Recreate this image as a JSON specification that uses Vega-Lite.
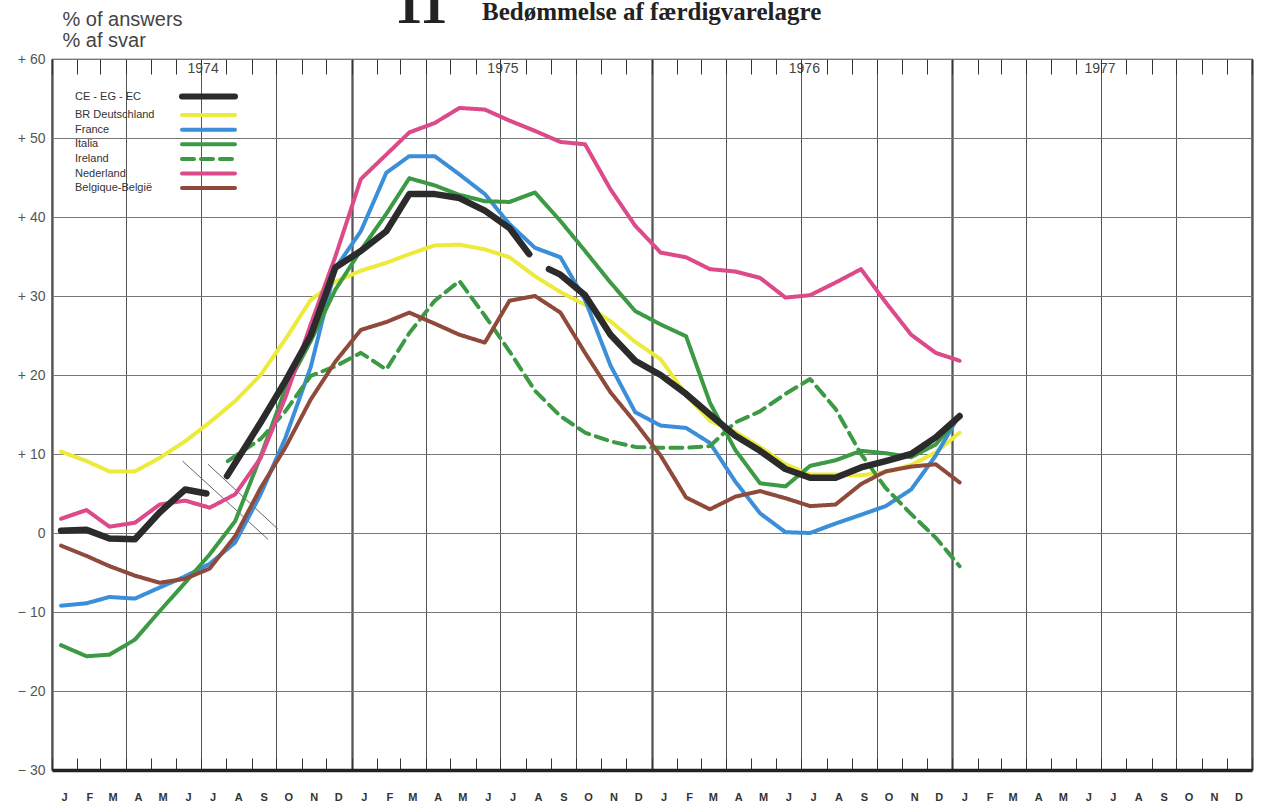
{
 "$schema": "https://vega.github.io/schema/vega-lite/v6.json",
 "width": 1200, "height": 711,
 "autosize": {"type": "none"},
 "padding": {"left": 52, "top": 59, "right": 11, "bottom": 32},
 "background": "white",
 "config": {"view": {"stroke": "#333", "strokeWidth": 1.2}, "axis": {"labelFont": "Liberation Sans", "titleFont": "Liberation Sans"}},
 "title": {"text": "Bedømmelse af færdigvarelagre", "anchor": "start", "frame": "group", "dx": 430, "dy": 48, "offset": 0, "font": "Liberation Serif", "fontSize": 25, "fontWeight": "bold", "color": "#222"},
 "datasets": {
  "years": [{"d": "1974-07-04", "year": "1974"}, {"d": "1975-07-04", "year": "1975"}, {"d": "1976-07-05", "year": "1976"}, {"d": "1977-06-30", "year": "1977"}],
  "breaks": [{"d": "1974-06-09", "v": 9.1, "d2": "1974-09-21", "v2": -0.8}, {"d": "1974-07-10", "v": 8.7, "d2": "1974-10-03", "v2": 0.5}],
  "series": [
   {"s":"DE","d":"1974-01-12","v":10.3},{"s":"DE","d":"1974-02-12","v":9.1},{"s":"DE","d":"1974-03-12","v":7.8},{"s":"DE","d":"1974-04-12","v":7.8},{"s":"DE","d":"1974-05-12","v":9.5},{"s":"DE","d":"1974-06-12","v":11.6},{"s":"DE","d":"1974-07-12","v":14.0},{"s":"DE","d":"1974-08-12","v":16.7},{"s":"DE","d":"1974-09-12","v":20.0},{"s":"DE","d":"1974-10-12","v":24.5},{"s":"DE","d":"1974-11-12","v":29.5},{"s":"DE","d":"1974-12-12","v":31.8},
   {"s":"DE","d":"1975-01-12","v":33.2},{"s":"DE","d":"1975-02-12","v":34.2},{"s":"DE","d":"1975-03-12","v":35.3},{"s":"DE","d":"1975-04-12","v":36.4},{"s":"DE","d":"1975-05-12","v":36.5},{"s":"DE","d":"1975-06-12","v":35.9},{"s":"DE","d":"1975-07-12","v":34.9},{"s":"DE","d":"1975-08-12","v":32.5},{"s":"DE","d":"1975-09-12","v":30.5},{"s":"DE","d":"1975-10-12","v":28.9},{"s":"DE","d":"1975-11-12","v":26.8},{"s":"DE","d":"1975-12-12","v":24.2},
   {"s":"DE","d":"1976-01-12","v":22.0},{"s":"DE","d":"1976-02-12","v":17.5},{"s":"DE","d":"1976-03-12","v":14.2},{"s":"DE","d":"1976-04-12","v":12.8},{"s":"DE","d":"1976-05-12","v":10.9},{"s":"DE","d":"1976-06-12","v":8.7},{"s":"DE","d":"1976-07-12","v":7.4},{"s":"DE","d":"1976-08-12","v":7.4},{"s":"DE","d":"1976-09-12","v":7.3},{"s":"DE","d":"1976-10-12","v":7.7},{"s":"DE","d":"1976-11-12","v":8.6},{"s":"DE","d":"1976-12-12","v":10.2},{"s":"DE","d":"1977-01-10","v":12.7},

   {"s":"FR","d":"1974-01-12","v":-9.2},{"s":"FR","d":"1974-02-12","v":-8.9},{"s":"FR","d":"1974-03-12","v":-8.1},{"s":"FR","d":"1974-04-12","v":-8.3},{"s":"FR","d":"1974-05-12","v":-6.9},{"s":"FR","d":"1974-06-12","v":-5.5},{"s":"FR","d":"1974-07-12","v":-3.9},{"s":"FR","d":"1974-08-12","v":-1.2},{"s":"FR","d":"1974-09-12","v":4.9},{"s":"FR","d":"1974-10-12","v":12.0},{"s":"FR","d":"1974-11-12","v":21.0},{"s":"FR","d":"1974-12-12","v":33.5},
   {"s":"FR","d":"1975-01-12","v":38.2},{"s":"FR","d":"1975-02-12","v":45.6},{"s":"FR","d":"1975-03-12","v":47.7},{"s":"FR","d":"1975-04-12","v":47.7},{"s":"FR","d":"1975-05-12","v":45.4},{"s":"FR","d":"1975-06-12","v":42.9},{"s":"FR","d":"1975-07-12","v":39.1},{"s":"FR","d":"1975-08-12","v":36.1},{"s":"FR","d":"1975-09-12","v":34.9},{"s":"FR","d":"1975-10-12","v":29.5},{"s":"FR","d":"1975-11-12","v":21.2},{"s":"FR","d":"1975-12-12","v":15.3},
   {"s":"FR","d":"1976-01-12","v":13.6},{"s":"FR","d":"1976-02-12","v":13.3},{"s":"FR","d":"1976-03-12","v":11.4},{"s":"FR","d":"1976-04-12","v":6.5},{"s":"FR","d":"1976-05-12","v":2.5},{"s":"FR","d":"1976-06-12","v":0.1},{"s":"FR","d":"1976-07-12","v":0.0},{"s":"FR","d":"1976-08-12","v":1.2},{"s":"FR","d":"1976-09-12","v":2.3},{"s":"FR","d":"1976-10-12","v":3.4},{"s":"FR","d":"1976-11-12","v":5.5},{"s":"FR","d":"1976-12-12","v":9.8},{"s":"FR","d":"1977-01-10","v":15.0},

   {"s":"IT","d":"1974-01-12","v":-14.2},{"s":"IT","d":"1974-02-12","v":-15.6},{"s":"IT","d":"1974-03-12","v":-15.4},{"s":"IT","d":"1974-04-12","v":-13.5},{"s":"IT","d":"1974-05-12","v":-9.9},{"s":"IT","d":"1974-06-12","v":-6.3},{"s":"IT","d":"1974-07-12","v":-2.7},{"s":"IT","d":"1974-08-12","v":1.5},{"s":"IT","d":"1974-09-12","v":9.7},{"s":"IT","d":"1974-10-12","v":18.2},{"s":"IT","d":"1974-11-12","v":24.3},{"s":"IT","d":"1974-12-12","v":30.8},
   {"s":"IT","d":"1975-01-12","v":35.8},{"s":"IT","d":"1975-02-12","v":40.4},{"s":"IT","d":"1975-03-12","v":44.9},{"s":"IT","d":"1975-04-12","v":44.0},{"s":"IT","d":"1975-05-12","v":42.8},{"s":"IT","d":"1975-06-12","v":42.0},{"s":"IT","d":"1975-07-12","v":41.9},{"s":"IT","d":"1975-08-12","v":43.1},{"s":"IT","d":"1975-09-12","v":39.5},{"s":"IT","d":"1975-10-12","v":35.7},{"s":"IT","d":"1975-11-12","v":31.7},{"s":"IT","d":"1975-12-12","v":28.1},
   {"s":"IT","d":"1976-01-12","v":26.4},{"s":"IT","d":"1976-02-12","v":24.9},{"s":"IT","d":"1976-03-12","v":16.5},{"s":"IT","d":"1976-04-12","v":10.5},{"s":"IT","d":"1976-05-12","v":6.3},{"s":"IT","d":"1976-06-12","v":5.9},{"s":"IT","d":"1976-07-12","v":8.5},{"s":"IT","d":"1976-08-12","v":9.2},{"s":"IT","d":"1976-09-12","v":10.4},{"s":"IT","d":"1976-10-12","v":10.1},{"s":"IT","d":"1976-11-12","v":9.6},{"s":"IT","d":"1976-12-12","v":11.2},{"s":"IT","d":"1977-01-10","v":14.8},

   {"s":"IE","d":"1974-08-03","v":9.1},{"s":"IE","d":"1974-09-12","v":11.9},{"s":"IE","d":"1974-10-12","v":15.4},{"s":"IE","d":"1974-11-12","v":19.9},{"s":"IE","d":"1974-12-12","v":21.1},
   {"s":"IE","d":"1975-01-12","v":22.8},{"s":"IE","d":"1975-02-12","v":20.7},{"s":"IE","d":"1975-03-12","v":25.3},{"s":"IE","d":"1975-04-12","v":29.4},{"s":"IE","d":"1975-05-12","v":31.9},{"s":"IE","d":"1975-06-12","v":27.5},{"s":"IE","d":"1975-07-12","v":23.0},{"s":"IE","d":"1975-08-12","v":18.0},{"s":"IE","d":"1975-09-12","v":14.8},{"s":"IE","d":"1975-10-12","v":12.7},{"s":"IE","d":"1975-11-12","v":11.6},{"s":"IE","d":"1975-12-12","v":10.9},
   {"s":"IE","d":"1976-01-12","v":10.8},{"s":"IE","d":"1976-02-12","v":10.8},{"s":"IE","d":"1976-03-12","v":11.0},{"s":"IE","d":"1976-04-12","v":14.0},{"s":"IE","d":"1976-05-12","v":15.4},{"s":"IE","d":"1976-06-12","v":17.6},{"s":"IE","d":"1976-07-12","v":19.5},{"s":"IE","d":"1976-08-12","v":15.7},{"s":"IE","d":"1976-09-12","v":10.0},{"s":"IE","d":"1976-10-12","v":5.7},{"s":"IE","d":"1976-11-12","v":2.4},{"s":"IE","d":"1976-12-12","v":-0.6},{"s":"IE","d":"1977-01-10","v":-4.2},

   {"s":"NL","d":"1974-01-12","v":1.8},{"s":"NL","d":"1974-02-12","v":2.9},{"s":"NL","d":"1974-03-12","v":0.8},{"s":"NL","d":"1974-04-12","v":1.3},{"s":"NL","d":"1974-05-12","v":3.6},{"s":"NL","d":"1974-06-12","v":4.1},{"s":"NL","d":"1974-07-12","v":3.2},{"s":"NL","d":"1974-08-12","v":4.9},{"s":"NL","d":"1974-09-12","v":9.5},{"s":"NL","d":"1974-10-12","v":17.1},{"s":"NL","d":"1974-11-12","v":26.4},{"s":"NL","d":"1974-12-12","v":35.0},
   {"s":"NL","d":"1975-01-12","v":44.8},{"s":"NL","d":"1975-02-12","v":47.9},{"s":"NL","d":"1975-03-12","v":50.7},{"s":"NL","d":"1975-04-12","v":51.9},{"s":"NL","d":"1975-05-12","v":53.8},{"s":"NL","d":"1975-06-12","v":53.6},{"s":"NL","d":"1975-07-12","v":52.2},{"s":"NL","d":"1975-08-12","v":50.9},{"s":"NL","d":"1975-09-12","v":49.5},{"s":"NL","d":"1975-10-12","v":49.2},{"s":"NL","d":"1975-11-12","v":43.5},{"s":"NL","d":"1975-12-12","v":38.9},
   {"s":"NL","d":"1976-01-12","v":35.5},{"s":"NL","d":"1976-02-12","v":34.9},{"s":"NL","d":"1976-03-12","v":33.4},{"s":"NL","d":"1976-04-12","v":33.1},{"s":"NL","d":"1976-05-12","v":32.3},{"s":"NL","d":"1976-06-12","v":29.8},{"s":"NL","d":"1976-07-12","v":30.1},{"s":"NL","d":"1976-08-12","v":31.7},{"s":"NL","d":"1976-09-12","v":33.4},{"s":"NL","d":"1976-10-12","v":29.2},{"s":"NL","d":"1976-11-12","v":25.1},{"s":"NL","d":"1976-12-12","v":22.8},{"s":"NL","d":"1977-01-10","v":21.8},

   {"s":"BE","d":"1974-01-12","v":-1.6},{"s":"BE","d":"1974-02-12","v":-2.9},{"s":"BE","d":"1974-03-12","v":-4.2},{"s":"BE","d":"1974-04-12","v":-5.4},{"s":"BE","d":"1974-05-12","v":-6.3},{"s":"BE","d":"1974-06-12","v":-5.8},{"s":"BE","d":"1974-07-12","v":-4.5},{"s":"BE","d":"1974-08-12","v":-0.4},{"s":"BE","d":"1974-09-12","v":5.7},{"s":"BE","d":"1974-10-12","v":10.8},{"s":"BE","d":"1974-11-12","v":16.9},{"s":"BE","d":"1974-12-12","v":21.7},
   {"s":"BE","d":"1975-01-12","v":25.7},{"s":"BE","d":"1975-02-12","v":26.7},{"s":"BE","d":"1975-03-12","v":27.9},{"s":"BE","d":"1975-04-12","v":26.5},{"s":"BE","d":"1975-05-12","v":25.1},{"s":"BE","d":"1975-06-12","v":24.1},{"s":"BE","d":"1975-07-12","v":29.4},{"s":"BE","d":"1975-08-12","v":30.0},{"s":"BE","d":"1975-09-12","v":27.9},{"s":"BE","d":"1975-10-12","v":22.8},{"s":"BE","d":"1975-11-12","v":17.8},{"s":"BE","d":"1975-12-12","v":14.0},
   {"s":"BE","d":"1976-01-12","v":9.8},{"s":"BE","d":"1976-02-12","v":4.5},{"s":"BE","d":"1976-03-12","v":3.0},{"s":"BE","d":"1976-04-12","v":4.6},{"s":"BE","d":"1976-05-12","v":5.3},{"s":"BE","d":"1976-06-12","v":4.4},{"s":"BE","d":"1976-07-12","v":3.4},{"s":"BE","d":"1976-08-12","v":3.6},{"s":"BE","d":"1976-09-12","v":6.2},{"s":"BE","d":"1976-10-12","v":7.8},{"s":"BE","d":"1976-11-12","v":8.4},{"s":"BE","d":"1976-12-12","v":8.7},{"s":"BE","d":"1977-01-10","v":6.4},

   {"s":"EC","g":1,"d":"1974-01-12","v":0.3},{"s":"EC","g":1,"d":"1974-02-12","v":0.4},{"s":"EC","g":1,"d":"1974-03-12","v":-0.7},{"s":"EC","g":1,"d":"1974-04-12","v":-0.8},{"s":"EC","g":1,"d":"1974-05-12","v":2.6},{"s":"EC","g":1,"d":"1974-06-12","v":5.5},{"s":"EC","g":1,"d":"1974-07-08","v":5.0},
   {"s":"EC","g":2,"d":"1974-08-02","v":7.2},{"s":"EC","g":2,"d":"1974-09-12","v":14.0},{"s":"EC","g":2,"d":"1974-10-12","v":19.2},{"s":"EC","g":2,"d":"1974-11-12","v":25.0},{"s":"EC","g":2,"d":"1974-12-12","v":33.6},{"s":"EC","g":2,"d":"1975-01-12","v":35.7},{"s":"EC","g":2,"d":"1975-02-12","v":38.2},{"s":"EC","g":2,"d":"1975-03-12","v":42.9},{"s":"EC","g":2,"d":"1975-04-12","v":42.9},{"s":"EC","g":2,"d":"1975-05-12","v":42.4},{"s":"EC","g":2,"d":"1975-06-12","v":40.8},{"s":"EC","g":2,"d":"1975-07-12","v":38.6},{"s":"EC","g":2,"d":"1975-08-05","v":35.3},
   {"s":"EC","g":3,"d":"1975-08-29","v":33.4},{"s":"EC","g":3,"d":"1975-09-12","v":32.7},{"s":"EC","g":3,"d":"1975-10-12","v":30.1},{"s":"EC","g":3,"d":"1975-11-12","v":25.1},{"s":"EC","g":3,"d":"1975-12-12","v":21.8},{"s":"EC","g":3,"d":"1976-01-12","v":20.0},{"s":"EC","g":3,"d":"1976-02-12","v":17.6},{"s":"EC","g":3,"d":"1976-03-12","v":15.0},{"s":"EC","g":3,"d":"1976-04-12","v":12.3},{"s":"EC","g":3,"d":"1976-05-12","v":10.4},{"s":"EC","g":3,"d":"1976-06-12","v":8.1},{"s":"EC","g":3,"d":"1976-07-12","v":7.0},{"s":"EC","g":3,"d":"1976-08-12","v":7.0},{"s":"EC","g":3,"d":"1976-09-12","v":8.3},{"s":"EC","g":3,"d":"1976-10-12","v":9.1},{"s":"EC","g":3,"d":"1976-11-12","v":10.0},{"s":"EC","g":3,"d":"1976-12-12","v":12.1},{"s":"EC","g":3,"d":"1977-01-10","v":14.8}
  ]
 },
 "resolve": {"axis": {"x": "independent"}},
 "layer": [
  {
   "mark": {"type": "rule", "color": "#222", "strokeWidth": 2.5},
   "encoding": {"y": {"datum": 0, "type": "quantitative"}}
  },
  {
   "data": {"name": "years"},
   "mark": {"type": "text", "font": "Liberation Sans", "fontSize": 14, "color": "#444", "baseline": "middle"},
   "encoding": {
    "x": {"field": "d", "type": "temporal",
      "scale": {"type": "utc", "domain": [{"year": 1974, "month": 1, "date": 1, "utc": true}, {"year": 1978, "month": 1, "date": 1, "utc": true}], "nice": false},
      "axis": {"orient": "bottom", "tickCount": {"interval": "year", "step": 1}, "grid": true, "gridColor": "#222", "gridWidth": 2, "ticks": false, "labels": false, "domain": false, "title": null}},
    "y": {"datum": 58.7, "type": "quantitative"},
    "text": {"field": "year"}
   }
  },
  {
   "data": {"name": "breaks"},
   "mark": {"type": "rule", "color": "#555", "strokeWidth": 0.9},
   "encoding": {
    "x": {"field": "d", "type": "temporal", "axis": {"orient": "bottom", "tickCount": {"interval": "month", "step": 3}, "grid": true, "gridColor": "#555", "gridWidth": 1, "ticks": false, "labels": false, "domain": false, "title": null}},
    "x2": {"field": "d2"},
    "y": {"field": "v", "type": "quantitative"},
    "y2": {"field": "v2"}
   }
  },
  {
   "data": {"name": "series"},
   "transform": [{"filter": "datum.s != 'EC'"}],
   "mark": {"type": "line", "strokeWidth": 4, "strokeCap": "round", "strokeJoin": "round"},
   "encoding": {
    "x": {"field": "d", "type": "temporal",
      "axis": {"orient": "bottom", "tickCount": {"interval": "month", "step": 1}, "labelExpr": "utcyear(datum.value) > 1977 ? '' : upper(slice(utcFormat(datum.value, '%B'), 0, 1))", "labelOffset": 12, "labelPadding": 33, "labelOverlap": false, "labelBound": false, "labelFlush": false, "tickSize": -12, "tickColor": "#333", "tickWidth": 1, "domain": true, "domainWidth": 3.5, "domainColor": "#222", "grid": false, "labelFontSize": 11, "labelFontWeight": "bold", "labelColor": "#333", "title": null}},
    "y": {"field": "v", "type": "quantitative",
      "scale": {"domain": [-30, 60], "nice": false, "zero": false},
      "axis": {"values": [-30, -20, -10, 0, 10, 20, 30, 40, 50, 60], "labelExpr": "datum.value > 0 ? '+ ' + datum.value : (datum.value < 0 ? '− ' + abs(datum.value) : '0')", "grid": true, "gridColor": "#777", "gridWidth": 1, "ticks": false, "domain": false, "labelPadding": 7, "labelFontSize": 14, "labelColor": "#555", "labelFont": "Liberation Sans",
        "title": ["% of answers", "% af svar"], "titleAngle": 0, "titleX": 10, "titleY": -34, "titleAlign": "left", "titleBaseline": "alphabetic", "titleFontSize": 20, "titleFontWeight": "normal", "titleColor": "#444", "titleLineHeight": 21}},
    "color": {"field": "s", "type": "nominal",
      "scale": {"domain": ["EC", "DE", "FR", "IT", "IE", "NL", "BE"], "range": ["#2b2b2b", "#ecea3a", "#3b8fd8", "#3c9a44", "#3c9a44", "#dc4a8a", "#8f4a3c"]},
      "legend": {"title": null, "orient": "none", "legendX": 23, "legendY": 32, "direction": "vertical", "symbolType": "M 101.5 0 L 154.5 0", "symbolSize": 4, "symbolStrokeWidth": 4, "rowPadding": -2.4, "padding": 0, "labelFont": "Liberation Sans", "labelFontSize": 11, "labelColor": "#333", "labelOffset": -11, "labelLimit": 200,
        "labelExpr": "datum.label == 'EC' ? 'CE - EG - EC' : datum.label == 'DE' ? 'BR  Deutschland' : datum.label == 'FR' ? 'France' : datum.label == 'IT' ? 'Italia' : datum.label == 'IE' ? 'Ireland' : datum.label == 'NL' ? 'Nederland' : 'Belgique-België'",
        "encode": {"symbols": {"update": {"strokeWidth": {"signal": "(datum.value == 'EC' ? 6 : 4)"}, "strokeCap": {"value": "round"}}}}}},
    "strokeDash": {"field": "s", "type": "nominal",
      "scale": {"domain": ["EC", "DE", "FR", "IT", "IE", "NL", "BE"], "range": [[1, 0], [1, 0], [1, 0], [1, 0], [12, 7], [1, 0], [1, 0]]},
      "legend": {"title": null, "orient": "none", "legendX": 23, "legendY": 32, "direction": "vertical", "symbolType": "M 101.5 0 L 154.5 0", "symbolSize": 4, "symbolStrokeWidth": 4, "rowPadding": -2.4, "padding": 0, "labelFont": "Liberation Sans", "labelFontSize": 11, "labelColor": "#333", "labelOffset": -11, "labelLimit": 200}}
   }
  },
  {
   "data": {"name": "series"},
   "transform": [{"filter": "datum.s == 'EC'"}],
   "mark": {"type": "line", "color": "#2b2b2b", "strokeWidth": 6.5, "strokeCap": "round", "strokeJoin": "round"},
   "encoding": {
    "x": {"field": "d", "type": "temporal",
      "axis": {"orient": "top", "tickCount": {"interval": "month", "step": 1}, "tickSize": -15, "tickColor": "#333", "tickWidth": 1, "labels": false, "domain": false, "grid": false,
        "title": "11", "titleFont": "Liberation Serif", "titleFontSize": 56, "titleFontWeight": "bold", "titleColor": "#222", "titleX": 342, "titleY": -37, "titleAlign": "left", "titleBaseline": "alphabetic", "titleAngle": 0}},
    "y": {"field": "v", "type": "quantitative"},
    "detail": {"field": "g"}
   }
  }
 ]
}
